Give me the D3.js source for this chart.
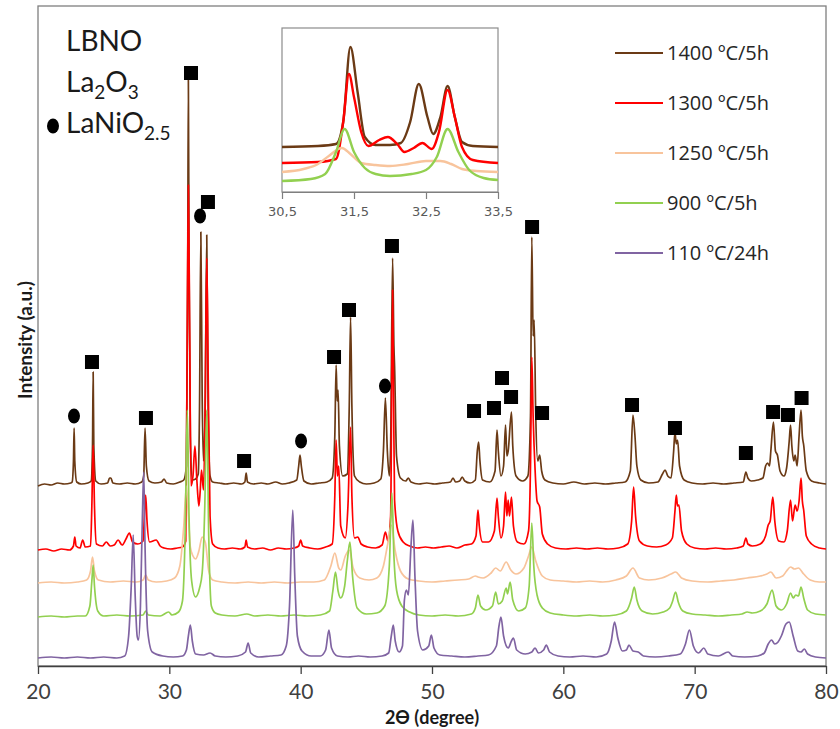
<!DOCTYPE html>
<html><head><meta charset="utf-8">
<script src="https://cdn.jsdelivr.net/npm/d3@7"></script>
<style>body{margin:0;background:#fff}svg{display:block}</style>
</head><body>
<svg id="chart" width="840" height="729"></svg>
<script>
// ---------- DATA (2θ in degrees, intensity in a.u.) ----------
const seriesNames = ["1400 ºC/5h", "1300 ºC/5h", "1250 ºC/5h", "900 ºC/5h", "110 ºC/24h"];
const seriesColors = ["#6b3a15", "#ff0000", "#f8c49c", "#92d050", "#8064a2"];
const xTicks = [20, 30, 40, 50, 60, 70, 80];
const insetTicks = [30.5, 31.5, 32.5, 33.5];

const s1400 = [[20,180],[20.5,182],[21,181],[21.5,183],[22,182],[22.5,183],[22.6,184],[22.7,205],[22.75,238],[22.8,205],[22.95,184],[23.3,182],[23.8,183],[24.05,185],[24.15,220],[24.2,294],[24.25,220],[24.4,185],[24.8,182],[25.3,183],[25.45,188],[25.55,188],[25.7,183],[26.2,182],[26.8,183],[27.4,182],[27.9,184],[28.05,190],[28.15,238],[28.25,200],[28.45,185],[28.9,183],[29.4,184],[29.6,187],[29.8,183],[30.3,182],[30.8,184],[31.1,186],[31.3,200],[31.4,400],[31.45,586],[31.5,400],[31.6,230],[31.75,186],[32.0,187],[32.2,192],[32.3,260],[32.4,434],[32.5,270],[32.6,205],[32.72,250],[32.85,431],[32.95,260],[33.1,190],[33.3,184],[33.8,183],[34.3,182],[34.9,183],[35.5,182],[35.75,184],[35.85,193],[35.95,184],[36.4,182],[37,183],[37.5,182],[38.1,184],[38.6,182],[39.1,183],[39.7,186],[39.85,200],[39.95,211],[40.05,200],[40.25,185],[40.8,182],[41.4,183],[42.0,184],[42.4,188],[42.6,230],[42.7,301],[42.78,265],[42.85,276],[42.95,220],[43.2,190],[43.55,192],[43.7,260],[43.8,349],[43.9,260],[44.1,190],[44.5,184],[45,182],[45.6,183],[46.1,187],[46.3,215],[46.45,268],[46.6,215],[46.75,190],[46.85,220],[47.0,408],[47.1,320],[47.15,300],[47.3,210],[47.6,188],[48.0,185],[48.2,188],[48.4,184],[49,182],[49.6,183],[50.2,182],[50.8,183],[51.4,184],[51.6,188],[51.8,184],[52.1,185],[52.3,189],[52.5,185],[52.9,183],[53.3,186],[53.45,215],[53.55,224],[53.65,205],[53.85,186],[54.4,184],[54.8,195],[54.95,236],[55.05,215],[55.25,190],[55.45,200],[55.6,241],[55.7,210],[55.8,215],[56.05,254],[56.15,220],[56.4,190],[56.9,185],[57.3,190],[57.5,250],[57.6,429],[57.7,330],[57.78,346],[57.9,250],[58.05,205],[58.2,211],[58.35,195],[58.6,186],[59.2,183],[60,182],[60.8,184],[61.6,182],[62.4,183],[63.2,182],[64.0,183],[64.7,184],[65.1,195],[65.3,251],[65.45,231],[65.6,200],[65.9,186],[66.5,183],[67.2,184],[67.55,192],[67.75,196],[67.95,190],[68.2,188],[68.4,215],[68.5,234],[68.6,222],[68.7,226],[68.85,200],[69.2,186],[69.8,183],[70.6,182],[71.4,183],[72.2,182],[73,183],[73.7,184],[73.9,194],[74.05,188],[74.3,185],[74.8,186],[75.2,188],[75.4,200],[75.55,203],[75.7,200],[75.8,215],[76.0,244],[76.15,215],[76.3,211],[76.5,195],[76.8,190],[77.0,198],[77.2,225],[77.3,241],[77.4,220],[77.55,205],[77.65,211],[77.8,200],[77.95,230],[78.1,256],[78.2,230],[78.3,221],[78.5,195],[78.9,185],[79.5,183],[80,182]];

const s1300 = [[20,116],[20.6,117],[21.2,115],[21.8,117],[22.4,116],[22.7,120],[22.8,129],[22.9,120],[23.2,118],[23.4,126],[23.6,119],[24.0,120],[24.1,160],[24.2,221],[24.3,160],[24.45,122],[24.9,120],[25.2,124],[25.5,120],[25.8,121],[26.1,126],[26.4,121],[26.7,127],[26.96,133],[27.2,124],[27.6,122],[28.0,125],[28.1,150],[28.2,171],[28.3,145],[28.5,124],[29.0,126],[29.3,120],[29.6,118],[30.1,117],[30.6,118],[31.0,119],[31.25,125],[31.35,300],[31.45,481],[31.55,330],[31.65,180],[31.8,190],[31.95,220],[32.1,185],[32.25,160],[32.35,175],[32.45,196],[32.6,176],[32.72,250],[32.85,408],[32.95,300],[33.1,150],[33.3,122],[33.7,118],[34.2,117],[34.8,118],[35.4,117],[35.75,119],[35.85,126],[35.95,119],[36.5,117],[37.1,118],[37.7,116],[38.3,118],[38.9,117],[39.5,118],[39.85,120],[40.0,126],[40.15,120],[40.7,118],[41.3,117],[41.9,119],[42.4,122],[42.6,170],[42.7,226],[42.8,190],[42.9,200],[43.05,140],[43.4,128],[43.6,160],[43.8,239],[43.9,170],[44.1,128],[44.35,129],[44.6,122],[45.1,119],[45.7,118],[46.2,121],[46.45,134],[46.65,125],[46.85,150],[47.0,376],[47.08,260],[47.15,166],[47.4,135],[47.8,124],[48.3,120],[48.9,118],[49.5,119],[50.1,118],[50.7,119],[51.3,120],[51.9,118],[52.5,121],[53.0,122],[53.35,130],[53.5,156],[53.6,140],[53.85,124],[54.3,124],[54.75,135],[54.95,168],[55.05,150],[55.25,128],[55.45,140],[55.6,174],[55.7,150],[55.8,166],[55.9,150],[56.05,169],[56.2,140],[56.5,124],[57.0,122],[57.35,135],[57.5,200],[57.6,309],[57.7,250],[57.85,196],[58.0,165],[58.2,159],[58.4,132],[58.8,122],[59.4,118],[60.2,117],[61,118],[61.8,117],[62.6,118],[63.4,117],[64.2,118],[64.9,122],[65.2,145],[65.35,179],[65.5,150],[65.8,125],[66.4,120],[67.1,119],[67.8,121],[68.3,128],[68.5,155],[68.6,171],[68.7,160],[68.8,161],[69.0,135],[69.4,122],[70,118],[70.8,117],[71.6,118],[72.4,117],[73.2,118],[73.7,120],[73.9,128],[74.05,122],[74.4,120],[75.0,122],[75.4,130],[75.6,141],[75.75,145],[75.95,169],[76.1,145],[76.4,125],[76.8,124],[77.05,135],[77.3,166],[77.45,145],[77.65,161],[77.8,155],[77.95,165],[78.1,188],[78.2,165],[78.3,156],[78.5,130],[78.9,122],[79.5,118],[80,117]];

const s1250 = [[20,83],[21,84],[22,83],[23,84],[23.7,86],[24.0,95],[24.15,109],[24.3,95],[24.6,86],[25.5,84],[26.5,85],[27.5,84],[28.0,86],[28.2,91],[28.4,86],[29,84],[29.8,85],[30.4,88],[30.8,100],[31.1,140],[31.3,180],[31.45,150],[31.6,119],[31.8,110],[32.0,107],[32.25,115],[32.5,129],[32.75,123],[33.0,95],[33.3,86],[34,84],[35,83],[36,84],[37,83],[38,84],[39,83],[40,84],[41,84],[41.8,86],[42.3,100],[42.6,113],[42.9,98],[43.05,96],[43.4,110],[43.7,116],[44.0,98],[44.5,88],[45.2,86],[45.8,88],[46.3,100],[46.6,120],[46.9,141],[47.2,115],[47.6,95],[48.2,87],[49,85],[50,84],[51,85],[52,86],[52.8,87],[53.3,90],[53.5,89],[53.9,88],[54.5,93],[54.85,98],[55.2,95],[55.65,104],[56.0,96],[56.4,92],[57.0,98],[57.35,110],[57.6,119],[57.9,105],[58.4,90],[59,86],[60,85],[61,84],[62,85],[63,84],[64,86],[64.8,90],[65.3,98],[65.8,88],[66.5,86],[67.5,88],[68.2,92],[68.55,94],[69,88],[69.8,85],[71,84],[72,85],[73,86],[74,88],[75,90],[75.5,92],[75.8,94],[76.2,88],[76.7,90],[77.0,95],[77.3,99],[77.6,97],[77.9,98],[78.3,92],[78.8,86],[79.5,84],[80,84]];

const s900 = [[20,49],[21,50],[22,49],[23,50],[23.6,50],[23.95,60],[24.1,85],[24.2,101],[24.3,80],[24.55,55],[25,50],[26,51],[27,50],[28,51],[28.2,55],[28.4,51],[29.3,50],[29.95,54],[30.2,51],[30.7,54],[31.0,65],[31.2,130],[31.37,256],[31.5,150],[31.7,85],[32.0,69],[32.3,78],[32.5,93],[32.7,160],[32.85,256],[33.0,130],[33.2,60],[33.5,53],[34,51],[35,50],[35.9,52],[36.5,50],[37.5,51],[38.5,50],[39.5,51],[40.5,50],[41.5,51],[42.2,55],[42.45,75],[42.65,94],[42.85,75],[43.05,68],[43.35,80],[43.55,105],[43.75,124],[43.95,90],[44.3,58],[45,52],[45.8,53],[46.4,60],[46.75,100],[46.95,173],[47.1,110],[47.3,76],[47.7,60],[48.3,54],[49,51],[50,50],[51,51],[52,50],[53,52],[53.3,58],[53.5,71],[53.7,60],[54.1,56],[54.6,60],[54.85,74],[55.05,62],[55.35,65],[55.65,78],[55.75,72],[55.95,84],[56.15,66],[56.6,55],[57.1,58],[57.4,80],[57.6,143],[57.75,100],[58.0,71],[58.4,58],[59,53],[60,51],[61,50],[62,51],[63,50],[64,51],[64.8,55],[65.2,68],[65.4,79],[65.6,66],[66.0,55],[66.8,52],[67.6,54],[68.1,58],[68.3,64],[68.55,74],[68.75,64],[69.1,55],[69.8,52],[70.8,51],[71.8,50],[72.8,51],[73.6,52],[74.0,54],[74.4,53],[75.0,55],[75.5,62],[75.9,76],[76.2,60],[76.6,56],[77.0,62],[77.3,73],[77.5,68],[77.7,71],[77.9,70],[78.1,79],[78.3,68],[78.6,56],[79.2,52],[80,51]];

const s110 = [[20,8],[21,9],[22,8],[23,9],[24,8],[25,9],[26,8],[26.6,10],[26.9,30],[27.1,80],[27.25,131],[27.4,70],[27.55,30],[27.65,26],[27.8,60],[27.95,150],[28.05,194],[28.15,120],[28.35,35],[28.7,14],[29.5,10],[30.3,9],[31.0,10],[31.3,16],[31.45,30],[31.6,41],[31.75,25],[32.0,12],[32.6,11],[33.1,13],[33.5,10],[34.3,9],[35.2,10],[35.8,14],[36.0,23],[36.2,13],[36.8,9],[37.7,10],[38.5,11],[38.9,20],[39.15,60],[39.4,156],[39.55,90],[39.75,30],[40.1,15],[40.8,10],[41.5,10],[41.9,16],[42.15,36],[42.35,18],[42.8,10],[43.6,9],[44.4,10],[45.3,9],[46.2,10],[46.7,13],[46.9,30],[47.05,41],[47.2,25],[47.5,14],[47.75,20],[47.9,66],[48.05,76],[48.2,71],[48.4,120],[48.55,146],[48.7,90],[48.9,35],[49.3,16],[49.75,20],[49.95,31],[50.15,18],[50.6,11],[51.5,10],[52.5,9],[53.5,10],[54.3,11],[54.9,20],[55.1,40],[55.25,49],[55.45,30],[55.8,18],[56.05,25],[56.2,28],[56.45,16],[57.1,12],[57.6,14],[57.85,18],[58.1,13],[58.5,16],[58.7,21],[58.95,14],[59.6,10],[60.5,9],[61.5,10],[62.5,9],[63.3,12],[63.65,25],[63.9,44],[64.15,28],[64.5,15],[64.8,16],[65.0,21],[65.3,15],[65.7,14],[66.1,10],[67,9],[68,10],[68.9,12],[69.3,22],[69.6,36],[69.9,20],[70.3,13],[70.7,18],[71.0,12],[71.8,10],[72.55,14],[72.9,10],[73.8,9],[74.8,10],[75.3,13],[75.6,22],[75.85,26],[76.1,22],[76.35,24],[76.6,30],[76.95,42],[77.2,44],[77.5,30],[77.85,15],[78.1,14],[78.35,17],[78.6,12],[79.2,9],[80,8]];

// inset (zoom 30.5–33.5), own intensity units
const i1400 = [[30.5,45],[31.0,46],[31.25,48],[31.35,70],[31.45,145],[31.55,100],[31.65,55],[31.8,47],[32.0,47],[32.15,49],[32.28,70],[32.4,108],[32.52,75],[32.6,58],[32.7,75],[32.8,106],[32.9,75],[33.0,50],[33.15,46],[33.5,45]];
const i1300 = [[30.5,29],[31.0,30],[31.25,33],[31.35,70],[31.43,118],[31.5,95],[31.6,60],[31.7,46],[31.85,52],[31.97,55],[32.1,48],[32.2,40],[32.33,44],[32.45,49],[32.58,43],[32.68,60],[32.8,102],[32.9,75],[33.0,45],[33.15,32],[33.5,29]];
const i1250 = [[30.5,20],[30.8,23],[31.0,28],[31.15,36],[31.33,44],[31.45,38],[31.6,29],[31.8,27],[32.0,26],[32.25,28],[32.5,31],[32.7,31],[32.85,28],[33.0,23],[33.2,21],[33.5,20]];
const i900 = [[30.5,11],[30.9,13],[31.1,18],[31.25,40],[31.37,63],[31.5,40],[31.65,24],[31.8,18],[32.0,16],[32.3,18],[32.5,22],[32.65,35],[32.8,63],[32.95,40],[33.1,22],[33.3,14],[33.5,12]];

// phase markers [2θ, intensity]
const squareMarks = [[24.11,304],[28.22,248],[31.65,593],[32.94,464],[35.69,205],[42.54,309],[43.68,356],[46.95,420],[53.2,255],[54.72,258],[55.33,288],[56.02,269],[57.62,439],[58.38,253],[65.23,261],[68.5,238],[73.9,213],[75.97,254],[77.1,251],[78.14,268]];
const circleMarks = [[22.74,250],[32.34,450],[40.03,225],[46.42,280]];

// ---------- DRAWING ----------
const svg = d3.select("#chart");
const FONT = "Lato, 'Open Sans', sans-serif";
const LEGFONT = "'Open Sans', 'Noto Sans', sans-serif";
const mainSeries = [s1400, s1300, s1250, s900, s110];
const insetSeries = [i1400, i1300, i1250, i900];

const x = d3.scaleLinear().domain([20, 80]).range([38, 826]);
const y = d3.scaleLinear().domain([0, 660]).range([666, 6]);

// frame
svg.append("rect").attr("x", 38).attr("y", 6).attr("width", 788).attr("height", 660)
  .attr("fill", "none").attr("stroke", "#7f7f7f").attr("stroke-width", 1.3);

const line = d3.line().x(d => x(d[0])).y(d => y(d[1])).curve(d3.curveMonotoneX);
const gLines = svg.append("g");
mainSeries.forEach((s, i) => {
  gLines.append("path").datum(s).attr("d", line).attr("fill", "none")
    .attr("stroke", seriesColors[i]).attr("stroke-width", 1.7).attr("stroke-linejoin", "round");
});

// markers
svg.append("g").selectAll("rect").data(squareMarks).join("rect")
  .attr("x", d => x(d[0]) - 7).attr("y", d => y(d[1]) - 7).attr("width", 14).attr("height", 14).attr("fill", "#000");
svg.append("g").selectAll("ellipse").data(circleMarks).join("ellipse")
  .attr("cx", d => x(d[0])).attr("cy", d => y(d[1])).attr("rx", 6).attr("ry", 7.5).attr("fill", "#000");

// x axis
const xAxis = svg.append("g").attr("transform", "translate(0,666)")
  .call(d3.axisBottom(x).tickValues(xTicks).tickSize(8).tickSizeOuter(0).tickPadding(10));
xAxis.select(".domain").attr("stroke", "#404040").attr("stroke-width", 1.3);
xAxis.selectAll(".tick line").attr("stroke", "#404040").attr("stroke-width", 1.3);
xAxis.selectAll(".tick text").attr("font-family", FONT).attr("font-size", 21).attr("fill", "#404040");

svg.append("text").attr("x", 432).attr("y", 724).attr("text-anchor", "middle")
  .attr("font-family", FONT).attr("font-size", 18).attr("font-weight", "bold").attr("fill", "#1a1a1a")
  .text("2ϴ (degree)");
svg.append("text").attr("transform", "translate(32,340) rotate(-90)").attr("text-anchor", "middle")
  .attr("font-family", FONT).attr("font-size", 19).attr("font-weight", "bold").attr("fill", "#1a1a1a")
  .text("Intensity (a.u.)");

// phase labels
const tl = svg.append("g").attr("font-family", FONT).attr("fill", "#1a1a1a").attr("font-size", 28);
tl.append("text").attr("x", 66).attr("y", 51).text("LBNO");
const t2 = tl.append("text").attr("x", 66).attr("y", 92);
t2.append("tspan").text("La");
t2.append("tspan").attr("font-size", 19).attr("dy", 7).text("2");
t2.append("tspan").attr("dy", -7).text("O");
t2.append("tspan").attr("font-size", 19).attr("dy", 7).text("3");
const t3 = tl.append("text").attr("x", 66).attr("y", 133);
t3.append("tspan").text("LaNiO");
t3.append("tspan").attr("font-size", 19).attr("dy", 7).text("2.5");
svg.append("ellipse").attr("cx", 53).attr("cy", 126).attr("rx", 6).attr("ry", 7.5).attr("fill", "#000");

// legend
const lg = svg.append("g");
seriesNames.forEach((n, i) => {
  const yy = 53 + i * 50;
  lg.append("line").attr("x1", 615).attr("x2", 663).attr("y1", yy).attr("y2", yy)
    .attr("stroke", seriesColors[i]).attr("stroke-width", 2);
  lg.append("text").attr("x", 667).attr("y", yy + 7).attr("font-family", LEGFONT).attr("font-size", 20)
    .attr("fill", "#262626").text(n);
});

// inset
const ix = d3.scaleLinear().domain([30.5, 33.5]).range([282, 498]);
const iy = d3.scaleLinear().domain([0, 164]).range([192, 28]);
svg.append("rect").attr("x", 282).attr("y", 28).attr("width", 216).attr("height", 164)
  .attr("fill", "#fff").attr("stroke", "#8c8c8c").attr("stroke-width", 1.2);
const iline = d3.line().x(d => ix(d[0])).y(d => iy(d[1])).curve(d3.curveMonotoneX);
insetSeries.forEach((s, i) => {
  svg.append("path").datum(s).attr("d", iline).attr("fill", "none")
    .attr("stroke", seriesColors[i]).attr("stroke-width", 2.4).attr("stroke-linejoin", "round");
});
const iAxis = svg.append("g").attr("transform", "translate(0,192)")
  .call(d3.axisBottom(ix).tickValues(insetTicks).tickSize(7).tickSizeOuter(0).tickPadding(8)
    .tickFormat(d => d.toFixed(1).replace(".", ",")));
iAxis.select(".domain").attr("stroke", "#7f7f7f").attr("stroke-width", 1.2);
iAxis.selectAll(".tick line").attr("stroke", "#7f7f7f").attr("stroke-width", 1.2);
iAxis.selectAll(".tick text").attr("font-family", "'DejaVu Sans', Verdana, sans-serif").attr("font-size", 13).attr("fill", "#595959");
</script>
</body></html>
